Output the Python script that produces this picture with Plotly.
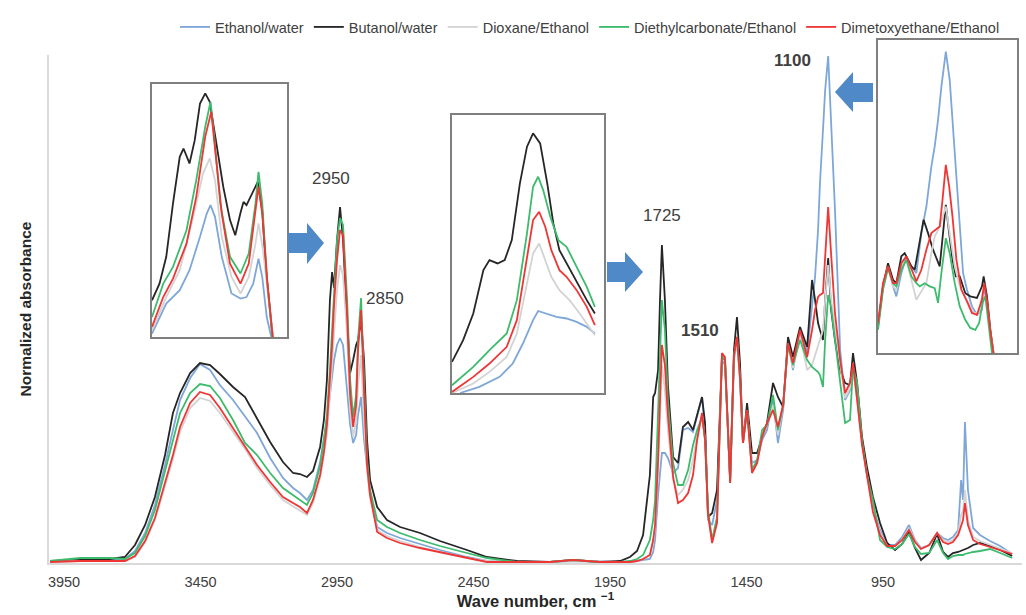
import plotly.graph_objects as go

# ---------------- data (wavenumber grid shared by all spectra) ----------------
wavenumber = [
    4001, 3891, 3782, 3727, 3690, 3653, 3617, 3580, 3551, 3525,
    3488, 3452, 3415, 3379, 3331, 3287, 3243, 3195, 3148, 3111,
    3086, 3060, 3038, 3012, 2998, 2987, 2976, 2968, 2961, 2950,
    2939, 2928, 2913, 2902, 2891, 2880, 2873, 2862, 2851, 2840,
    2829, 2803, 2767, 2719, 2646, 2573, 2474, 2401, 2291, 2170,
    2086, 1987, 1913, 1877, 1851,
    1829, 1804, 1792, 1785, 1774, 1767, 1760, 1749, 1738, 1719,
    1701, 1683, 1664, 1646, 1631, 1613, 1602, 1591, 1576, 1558,
    1540, 1529, 1510, 1496, 1485, 1474, 1463, 1448, 1430, 1411,
    1393, 1375, 1353, 1335, 1316, 1298, 1280, 1254, 1228, 1210,
    1199, 1188, 1181, 1170, 1162, 1151, 1140, 1126, 1107, 1089,
    1071, 1060, 1045, 1027, 1009, 987, 961, 935, 906, 880,
    855, 833, 811, 781, 752, 730, 712, 694, 675, 664,
    657, 650, 639, 620, 595, 558, 521, 477,
]

ethanol_water = [
    0.004, 0.004, 0.006, 0.008, 0.024, 0.060, 0.116, 0.196, 0.266, 0.326,
    0.370, 0.398, 0.386, 0.356, 0.326, 0.294, 0.260, 0.210, 0.170, 0.150,
    0.140, 0.126, 0.146, 0.202, 0.246, 0.286, 0.336, 0.370, 0.406, 0.436,
    0.450, 0.436, 0.346, 0.276, 0.240, 0.256, 0.296, 0.332, 0.246, 0.186,
    0.136, 0.072, 0.060, 0.050, 0.038, 0.026, 0.012, 0.004, 0.002, 0.002,
    0.004, 0.002, 0.002, 0.002, 0.004,
    0.006, 0.008, 0.022, 0.046, 0.136, 0.186, 0.220, 0.220, 0.210, 0.180,
    0.190, 0.266, 0.270, 0.262, 0.296, 0.332, 0.266, 0.086, 0.076, 0.126,
    0.406, 0.396, 0.166, 0.406, 0.446, 0.366, 0.240, 0.306, 0.200, 0.206,
    0.246, 0.266, 0.326, 0.240, 0.306, 0.446, 0.386, 0.466, 0.420, 0.516,
    0.572, 0.666, 0.760, 0.866, 0.946, 1.014, 0.886, 0.706, 0.426, 0.326,
    0.346, 0.386, 0.336, 0.246, 0.186, 0.110, 0.066, 0.036, 0.036, 0.052,
    0.076, 0.046, 0.030, 0.036, 0.060, 0.050, 0.046, 0.052, 0.066, 0.166,
    0.126, 0.282, 0.146, 0.070, 0.056, 0.044, 0.034, 0.018,
]

butanol_water = [
    0.004, 0.006, 0.008, 0.012, 0.036, 0.076, 0.132, 0.216, 0.300, 0.340,
    0.380, 0.400, 0.396, 0.378, 0.352, 0.332, 0.290, 0.242, 0.202, 0.180,
    0.178, 0.172, 0.184, 0.232, 0.286, 0.366, 0.526, 0.582, 0.550, 0.646,
    0.712, 0.646, 0.486, 0.380, 0.406, 0.436, 0.446, 0.486, 0.406, 0.246,
    0.166, 0.112, 0.086, 0.072, 0.060, 0.044, 0.026, 0.012, 0.004, 0.002,
    0.006, 0.002, 0.004, 0.012, 0.024,
    0.056, 0.176, 0.332, 0.340, 0.386, 0.526, 0.636, 0.526, 0.356, 0.212,
    0.200, 0.272, 0.282, 0.266, 0.296, 0.332, 0.280, 0.092, 0.100, 0.146,
    0.412, 0.406, 0.166, 0.426, 0.492, 0.400, 0.240, 0.320, 0.220, 0.220,
    0.252, 0.280, 0.360, 0.332, 0.312, 0.452, 0.412, 0.472, 0.432, 0.566,
    0.526, 0.480, 0.466, 0.446, 0.526, 0.610, 0.506, 0.446, 0.386, 0.360,
    0.356, 0.420, 0.360, 0.252, 0.192, 0.132, 0.080, 0.040, 0.026, 0.038,
    0.062, 0.030, 0.006, 0.020, 0.058, 0.022, 0.012, 0.020, 0.022, 0.024,
    0.026, 0.028, 0.030, 0.036, 0.040, 0.034, 0.026, 0.014,
]

dioxane_ethanol = [
    0.002, 0.004, 0.004, 0.004, 0.012, 0.042, 0.086, 0.152, 0.208, 0.262,
    0.310, 0.330, 0.324, 0.300, 0.262, 0.228, 0.190, 0.156, 0.126, 0.114,
    0.106, 0.096, 0.120, 0.170, 0.216, 0.256, 0.336, 0.396, 0.466, 0.546,
    0.596, 0.576, 0.456, 0.306, 0.252, 0.286, 0.356, 0.416, 0.286, 0.186,
    0.130, 0.066, 0.054, 0.044, 0.032, 0.022, 0.010, 0.004, 0.002, 0.002,
    0.004, 0.002, 0.002, 0.002, 0.004,
    0.008, 0.016, 0.042, 0.072, 0.186, 0.296, 0.396, 0.346, 0.266, 0.166,
    0.136, 0.146, 0.166, 0.206, 0.256, 0.296, 0.246, 0.096, 0.046, 0.086,
    0.416, 0.406, 0.160, 0.410, 0.446, 0.366, 0.240, 0.306, 0.186, 0.202,
    0.252, 0.276, 0.316, 0.256, 0.316, 0.436, 0.390, 0.456, 0.386, 0.396,
    0.416, 0.436, 0.446, 0.466, 0.526, 0.596, 0.526, 0.466, 0.396, 0.330,
    0.350, 0.390, 0.326, 0.236, 0.176, 0.106, 0.060, 0.034, 0.034, 0.046,
    0.070, 0.044, 0.028, 0.036, 0.060, 0.046, 0.042, 0.046, 0.060, 0.096,
    0.106, 0.146, 0.086, 0.052, 0.044, 0.036, 0.028, 0.020,
]

diethylcarbonate_ethanol = [
    0.004, 0.010, 0.010, 0.008, 0.020, 0.054, 0.106, 0.182, 0.246, 0.300,
    0.340, 0.358, 0.354, 0.330, 0.286, 0.240, 0.216, 0.180, 0.150, 0.136,
    0.126, 0.116, 0.140, 0.194, 0.246, 0.296, 0.386, 0.466, 0.546, 0.646,
    0.690, 0.676, 0.526, 0.366, 0.292, 0.336, 0.446, 0.530, 0.366, 0.206,
    0.146, 0.086, 0.072, 0.060, 0.046, 0.034, 0.020, 0.010, 0.002, 0.002,
    0.006, 0.002, 0.002, 0.004, 0.008,
    0.016, 0.046, 0.086, 0.126, 0.286, 0.406, 0.526, 0.466, 0.326, 0.200,
    0.156, 0.156, 0.186, 0.236, 0.266, 0.292, 0.246, 0.106, 0.046, 0.092,
    0.416, 0.406, 0.160, 0.416, 0.452, 0.372, 0.240, 0.306, 0.186, 0.206,
    0.266, 0.276, 0.336, 0.266, 0.316, 0.436, 0.396, 0.446, 0.406, 0.392,
    0.386, 0.382, 0.376, 0.352, 0.446, 0.536, 0.510, 0.446, 0.366, 0.280,
    0.286, 0.392, 0.360, 0.246, 0.176, 0.126, 0.046, 0.032, 0.028, 0.038,
    0.058, 0.032, 0.018, 0.020, 0.046, 0.020, 0.008, 0.014, 0.016, 0.016,
    0.016, 0.018, 0.020, 0.022, 0.024, 0.028, 0.020, 0.010,
]

dimetoxyethane_ethanol = [
    0.002, 0.004, 0.004, 0.004, 0.014, 0.044, 0.090, 0.158, 0.216, 0.272,
    0.320, 0.342, 0.336, 0.310, 0.270, 0.234, 0.196, 0.162, 0.132, 0.120,
    0.112, 0.100, 0.126, 0.176, 0.222, 0.276, 0.366, 0.436, 0.516, 0.606,
    0.666, 0.656, 0.496, 0.336, 0.272, 0.316, 0.426, 0.506, 0.346, 0.196,
    0.136, 0.062, 0.050, 0.040, 0.030, 0.022, 0.010, 0.002, 0.002, 0.002,
    0.006, 0.002, 0.002, 0.002, 0.004,
    0.008, 0.016, 0.046, 0.076, 0.206, 0.326, 0.436, 0.396, 0.296, 0.172,
    0.120, 0.126, 0.140, 0.176, 0.246, 0.300, 0.246, 0.096, 0.040, 0.080,
    0.420, 0.412, 0.160, 0.416, 0.452, 0.372, 0.240, 0.306, 0.180, 0.200,
    0.252, 0.280, 0.306, 0.272, 0.316, 0.440, 0.400, 0.466, 0.412, 0.466,
    0.506, 0.532, 0.536, 0.540, 0.616, 0.712, 0.616, 0.500, 0.406, 0.340,
    0.360, 0.400, 0.326, 0.236, 0.176, 0.102, 0.056, 0.034, 0.034, 0.046,
    0.066, 0.042, 0.028, 0.036, 0.060, 0.042, 0.038, 0.042, 0.056, 0.076,
    0.086, 0.120, 0.076, 0.046, 0.038, 0.032, 0.026, 0.018,
]

series_names = ["Ethanol/water", "Butanol/water", "Dioxane/Ethanol",
                "Diethylcarbonate/Ethanol", "Dimetoxyethane/Ethanol"]
series_colors = ["#7ea7d8", "#262626", "#d3d3d3", "#3dbb6c", "#f03535"]
main_values = [ethanol_water, butanol_water, dioxane_ethanol,
               diethylcarbonate_ethanol, dimetoxyethane_ethanol]

x_ticks = [3950, 3450, 2950, 2450, 1950, 1450, 950, 450]

# ---------------- inset data: (wavenumber, relative absorbance) ----------------
# inset 1 : 2950 / 2850 region
ins1_ethanol = [(3010, 0.013), (2991, 0.132), (2973, 0.185), (2960, 0.264), (2946, 0.396),
                (2937, 0.488), (2932, 0.521), (2926, 0.475), (2917, 0.317), (2904, 0.172),
                (2892, 0.152), (2884, 0.158), (2875, 0.211), (2868, 0.310), (2863, 0.237),
                (2857, 0.079), (2851, 0.0), (2849, -0.03)]
ins1_butanol = [(3010, 0.145), (3000, 0.211), (2991, 0.317), (2982, 0.528), (2973, 0.712),
                (2968, 0.745), (2960, 0.686), (2953, 0.778), (2946, 0.923), (2939, 0.963),
                (2933, 0.930), (2924, 0.765), (2915, 0.594), (2906, 0.462), (2899, 0.402),
                (2892, 0.491), (2888, 0.534), (2884, 0.521), (2877, 0.567), (2869, 0.613),
                (2863, 0.501), (2858, 0.264), (2850, 0.026), (2847, -0.03)]
ins1_dioxane = [(3010, 0.026), (2991, 0.158), (2973, 0.264), (2955, 0.475), (2942, 0.646),
                (2933, 0.706), (2926, 0.620), (2917, 0.396), (2904, 0.237), (2892, 0.172),
                (2881, 0.237), (2872, 0.369), (2868, 0.449), (2862, 0.343), (2854, 0.132),
                (2849, 0.0), (2847, -0.03)]
ins1_diethyl = [(3010, 0.079), (2995, 0.211), (2982, 0.277), (2964, 0.422), (2951, 0.620),
                (2939, 0.831), (2932, 0.930), (2927, 0.792), (2919, 0.528), (2906, 0.317),
                (2892, 0.251), (2881, 0.330), (2872, 0.528), (2868, 0.653), (2863, 0.528),
                (2857, 0.237), (2850, 0.013), (2848, -0.03)]
ins1_dimetoxy = [(3010, 0.040), (2995, 0.158), (2982, 0.231), (2964, 0.369), (2951, 0.554),
                 (2939, 0.792), (2931, 0.890), (2926, 0.752), (2917, 0.488), (2906, 0.290),
                 (2892, 0.211), (2881, 0.290), (2872, 0.488), (2868, 0.594), (2863, 0.488),
                 (2856, 0.211), (2849, 0.0), (2847, -0.03)]

# inset 2 : 1725 region
ins2_ethanol = [(1792, 0.0), (1773, 0.022), (1753, 0.058), (1740, 0.106), (1730, 0.178),
                (1720, 0.262), (1715, 0.295), (1707, 0.286), (1697, 0.274), (1687, 0.268),
                (1677, 0.256), (1667, 0.238), (1659, 0.214)]
ins2_butanol = [(1800, 0.112), (1789, 0.190), (1779, 0.286), (1769, 0.442), (1763, 0.478),
                (1755, 0.466), (1748, 0.478), (1741, 0.550), (1733, 0.754), (1726, 0.886),
                (1720, 0.934), (1713, 0.898), (1706, 0.754), (1700, 0.610), (1694, 0.514),
                (1680, 0.418), (1667, 0.334), (1659, 0.286)]
ins2_dioxane = [(1800, 0.0), (1779, 0.034), (1763, 0.076), (1746, 0.130), (1736, 0.214),
                (1726, 0.394), (1720, 0.502), (1714, 0.538), (1708, 0.478), (1702, 0.418),
                (1694, 0.370), (1684, 0.334), (1674, 0.286), (1659, 0.208)]
ins2_diethyl = [(1800, 0.028), (1779, 0.094), (1763, 0.154), (1746, 0.214), (1736, 0.334),
                (1726, 0.574), (1720, 0.742), (1715, 0.778), (1710, 0.730), (1703, 0.634),
                (1695, 0.550), (1687, 0.526), (1677, 0.454), (1667, 0.382), (1659, 0.310)]
ins2_dimetoxy = [(1800, 0.004), (1779, 0.058), (1763, 0.106), (1746, 0.166), (1736, 0.262),
                 (1726, 0.478), (1720, 0.622), (1714, 0.652), (1708, 0.598), (1702, 0.514),
                 (1694, 0.442), (1687, 0.418), (1677, 0.370), (1667, 0.310), (1659, 0.244)]

# inset 3 : 1100 region
ins3_ethanol = [(1250, 0.085), (1241, 0.213), (1232, 0.277), (1223, 0.213), (1217, 0.181),
                (1208, 0.255), (1199, 0.309), (1190, 0.277), (1181, 0.255), (1172, 0.383),
                (1163, 0.468), (1154, 0.596), (1148, 0.660), (1142, 0.745), (1136, 0.851),
                (1128, 0.963), (1121, 0.872), (1115, 0.713), (1109, 0.553), (1103, 0.383),
                (1097, 0.255), (1090, 0.202), (1081, 0.149), (1072, 0.122), (1063, 0.138),
                (1059, 0.213), (1054, 0.160), (1048, 0.064), (1042, 0.0), (1040, -0.03)]
ins3_butanol = [(1250, 0.085), (1241, 0.213), (1232, 0.287), (1223, 0.234), (1217, 0.223),
                (1208, 0.309), (1202, 0.319), (1190, 0.277), (1184, 0.266), (1175, 0.362),
                (1168, 0.426), (1160, 0.383), (1151, 0.330), (1139, 0.277), (1133, 0.383),
                (1128, 0.473), (1122, 0.383), (1116, 0.298), (1110, 0.245), (1103, 0.245),
                (1093, 0.191), (1084, 0.181), (1072, 0.176), (1063, 0.213), (1060, 0.245),
                (1054, 0.181), (1048, 0.074), (1042, 0.0), (1040, -0.03)]
ins3_dioxane = [(1250, 0.085), (1241, 0.213), (1232, 0.277), (1223, 0.213), (1217, 0.202),
                (1208, 0.277), (1199, 0.298), (1190, 0.234), (1181, 0.170), (1172, 0.197),
                (1163, 0.223), (1154, 0.319), (1148, 0.372), (1139, 0.404), (1128, 0.468),
                (1121, 0.383), (1112, 0.277), (1103, 0.213), (1090, 0.170), (1078, 0.128),
                (1069, 0.128), (1062, 0.191), (1054, 0.160), (1048, 0.064), (1042, 0.0),
                (1040, -0.03)]
ins3_diethyl = [(1250, 0.074), (1241, 0.202), (1232, 0.271), (1223, 0.223), (1217, 0.213),
                (1208, 0.266), (1199, 0.298), (1190, 0.245), (1181, 0.223), (1175, 0.213),
                (1166, 0.223), (1157, 0.213), (1148, 0.207), (1142, 0.160), (1136, 0.255),
                (1128, 0.367), (1121, 0.319), (1112, 0.223), (1103, 0.149), (1093, 0.106),
                (1084, 0.080), (1075, 0.074), (1068, 0.096), (1062, 0.160), (1057, 0.181),
                (1051, 0.085), (1045, 0.0), (1043, -0.03)]
ins3_dimetoxy = [(1250, 0.096), (1241, 0.223), (1232, 0.277), (1223, 0.223), (1217, 0.223),
                 (1208, 0.287), (1199, 0.309), (1190, 0.266), (1181, 0.229), (1172, 0.266),
                 (1163, 0.330), (1154, 0.383), (1145, 0.394), (1139, 0.404), (1134, 0.489),
                 (1128, 0.601), (1122, 0.532), (1116, 0.436), (1109, 0.298), (1100, 0.202),
                 (1090, 0.165), (1081, 0.128), (1072, 0.122), (1063, 0.170), (1059, 0.223),
                 (1054, 0.170), (1048, 0.074), (1042, 0.0), (1040, -0.03)]

insets = [
    dict(series=[ins1_ethanol, ins1_butanol, ins1_dioxane, ins1_diethyl, ins1_dimetoxy],
         xrange=[3010, 2830]),
    dict(series=[ins2_ethanol, ins2_butanol, ins2_dioxane, ins2_diethyl, ins2_dimetoxy],
         xrange=[1800, 1650]),
    dict(series=[ins3_ethanol, ins3_butanol, ins3_dioxane, ins3_diethyl, ins3_dimetoxy],
         xrange=[1250, 1000]),
]

peak_labels = [("2950", 2972, 0.77, False), ("2850", 2774, 0.53, False),
               ("1725", 1760, 0.695, False), ("1510", 1620, 0.466, True),
               ("1100", 1280, 1.006, True)]

# ---------------- layout geometry (pixels of the 1026x615 page) ----------------
W, H = 1026, 615
ML, MR, MT, MB = 49, 4, 33, 52
PW, PH = W - ML - MR, H - MT - MB


def px(x, y):
    return (x - ML) / PW, (H - MB - y) / PH


FONT = "Liberation Sans, Arial, sans-serif"

fig = go.Figure()

for name, color, vals in zip(series_names, series_colors, main_values):
    fig.add_trace(go.Scatter(x=wavenumber, y=vals, mode="lines", name=name,
                             line=dict(color=color, width=1.8), xaxis="x", yaxis="y"))

inset_boxes = [(152, 84, 287, 337), (452, 115, 604, 393), (878, 40, 1017, 353)]
for i, (ins, box) in enumerate(zip(insets, inset_boxes)):
    ax = i + 2
    for color, pts in zip(series_colors, ins["series"]):
        fig.add_trace(go.Scatter(x=[p[0] for p in pts], y=[p[1] for p in pts],
                                 mode="lines", showlegend=False, hoverinfo="skip",
                                 line=dict(color=color, width=1.8),
                                 xaxis=f"x{ax}", yaxis=f"y{ax}"))
    x0, y0 = px(box[0], box[3])
    x1, y1 = px(box[2], box[1])
    common = dict(showline=True, mirror=True, linecolor="#7f7f7f", linewidth=1.6,
                  showticklabels=False, ticks="", showgrid=False, zeroline=False)
    fig.update_layout(**{
        f"xaxis{ax}": dict(domain=[x0, x1], range=ins["xrange"], anchor=f"y{ax}", **common),
        f"yaxis{ax}": dict(domain=[y0, y1], range=[0, 1.0], anchor=f"x{ax}", **common),
    })


# block arrows (decoration)
def arrow_path(pts):
    conv = [px(*p) for p in pts]
    return "M " + " L ".join(f"{a:.5f},{b:.5f}" for a, b in conv) + " Z"


arrows = [
    [(288, 233), (307, 233), (307, 223), (324, 243), (307, 264), (307, 253), (288, 253)],
    [(607, 262), (625, 262), (625, 252), (643, 272), (625, 292), (625, 282), (607, 282)],
    [(873, 83), (853, 83), (853, 72), (835, 92), (853, 112), (853, 102), (873, 102)],
]
shapes = [dict(type="path", xref="paper", yref="paper", path=arrow_path(a),
               fillcolor="#4f89c7", line=dict(width=0)) for a in arrows]

annotations = [dict(x=wn, y=yv, xref="x", yref="y", text=(f"<b>{t}</b>" if bold else t),
                    showarrow=False, font=dict(family=FONT, size=17, color="#404040"))
               for t, wn, yv, bold in peak_labels]

main_top = (H - MB - 55) / PH
fig.update_layout(
    width=W, height=H,
    margin=dict(l=ML, r=MR, t=MT, b=MB),
    paper_bgcolor="white", plot_bgcolor="white",
    font=dict(family=FONT, size=14, color="#404040"),
    xaxis=dict(domain=[0, 1], range=[4005, 441], tickvals=x_ticks,
               ticktext=[str(v) for v in x_ticks], ticks="", showgrid=False,
               zeroline=False, showline=True, linecolor="#d9d9d9", linewidth=2,
               tickfont=dict(size=14.5, color="#404040"), ticklabelstandoff=5,
               title=dict(text="<b>Wave number, cm <sup>−1</sup></b>",
                          font=dict(size=16.5, color="#262626"), standoff=4)),
    yaxis=dict(domain=[0, main_top], range=[0, 1.016], showticklabels=False,
               ticks="", showgrid=False, zeroline=False, showline=True,
               linecolor="#d9d9d9", linewidth=2,
               title=dict(text="<b>Normalized absorbance</b>",
                          font=dict(size=15.5, color="#262626"), standoff=12)),
    legend=dict(orientation="h", x=px(175, 0)[0], xanchor="left",
                y=px(0, 27)[1], yanchor="middle", font=dict(size=14.5, color="#404040"),
                bgcolor="rgba(0,0,0,0)", itemwidth=30, tracegroupgap=0),
    shapes=shapes,
    annotations=annotations,
    showlegend=True,
)

fig.write_html("out.html")
